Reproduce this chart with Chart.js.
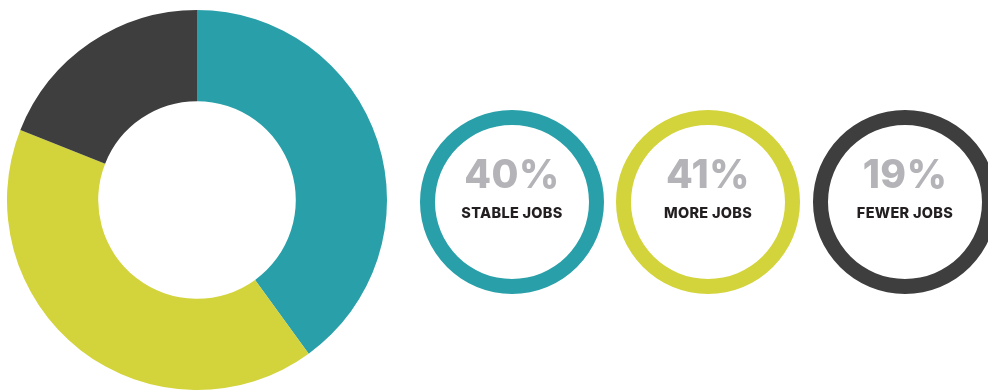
<!DOCTYPE html>
<html>
<head>
<meta charset="utf-8">
<script src="https://cdn.jsdelivr.net/npm/chart.js@4/dist/chart.umd.min.js"></script>
<style>
  html, body { margin: 0; padding: 0; background: #ffffff; overflow: hidden; }
  body { width: 988px; height: 391px; position: relative; }
  canvas { position: absolute; }
  .label { position: absolute; width: 184px; text-align: center; font-family: Inter, Lato, sans-serif; }
  .pct { font-weight: 800; font-size: 39px; color: #b4b4b8; line-height: 1; letter-spacing: 0.5px; }
  .cap { font-weight: 800; font-size: 14.5px; color: #231f20; line-height: 1; letter-spacing: 0.3px; }
</style>
</head>
<body>
<canvas id="main" width="380" height="380" style="left:7px;top:10px"></canvas>
<script>
// Job outlook shares (percent of respondents)
const categories = ['STABLE JOBS', 'MORE JOBS', 'FEWER JOBS'];
const shares = [40, 41, 19];
const colors = ['#29a0a9', '#d3d33c', '#3e3e3e'];

// Ring badge centres along the right side
const ringCentersX = [512, 708, 905];
const ringCenterY = 202;
const ringSize = 184;

const base = {
  responsive: false,
  animation: false,
  events: [],
  layout: { padding: 0 },
  plugins: { legend: { display: false }, tooltip: { enabled: false } }
};

new Chart(document.getElementById('main'), {
  type: 'doughnut',
  data: {
    labels: categories,
    datasets: [{ data: shares, backgroundColor: colors, borderWidth: 0 }]
  },
  options: Object.assign({}, base, { cutout: '52%', rotation: 0 })
});

// One full ring per category with its share written inside
categories.forEach((name, i) => {
  const cv = document.createElement('canvas');
  cv.width = ringSize; cv.height = ringSize;
  cv.style.left = (ringCentersX[i] - ringSize / 2) + 'px';
  cv.style.top = (ringCenterY - ringSize / 2) + 'px';
  document.body.appendChild(cv);
  new Chart(cv, {
    type: 'doughnut',
    data: {
      labels: [name],
      datasets: [{ data: [shares[i]], backgroundColor: [colors[i]], borderWidth: 0 }]
    },
    options: Object.assign({}, base, { cutout: ringSize / 2 - 15 })
  });

  const pct = document.createElement('div');
  pct.className = 'label pct';
  pct.textContent = shares[i] + '%';
  pct.style.left = (ringCentersX[i] - ringSize / 2) + 'px';
  pct.style.top = '154px';
  document.body.appendChild(pct);

  const cap = document.createElement('div');
  cap.className = 'label cap';
  cap.textContent = name;
  cap.style.left = (ringCentersX[i] - ringSize / 2) + 'px';
  cap.style.top = '206px';
  document.body.appendChild(cap);
});
</script>
</body>
</html>
